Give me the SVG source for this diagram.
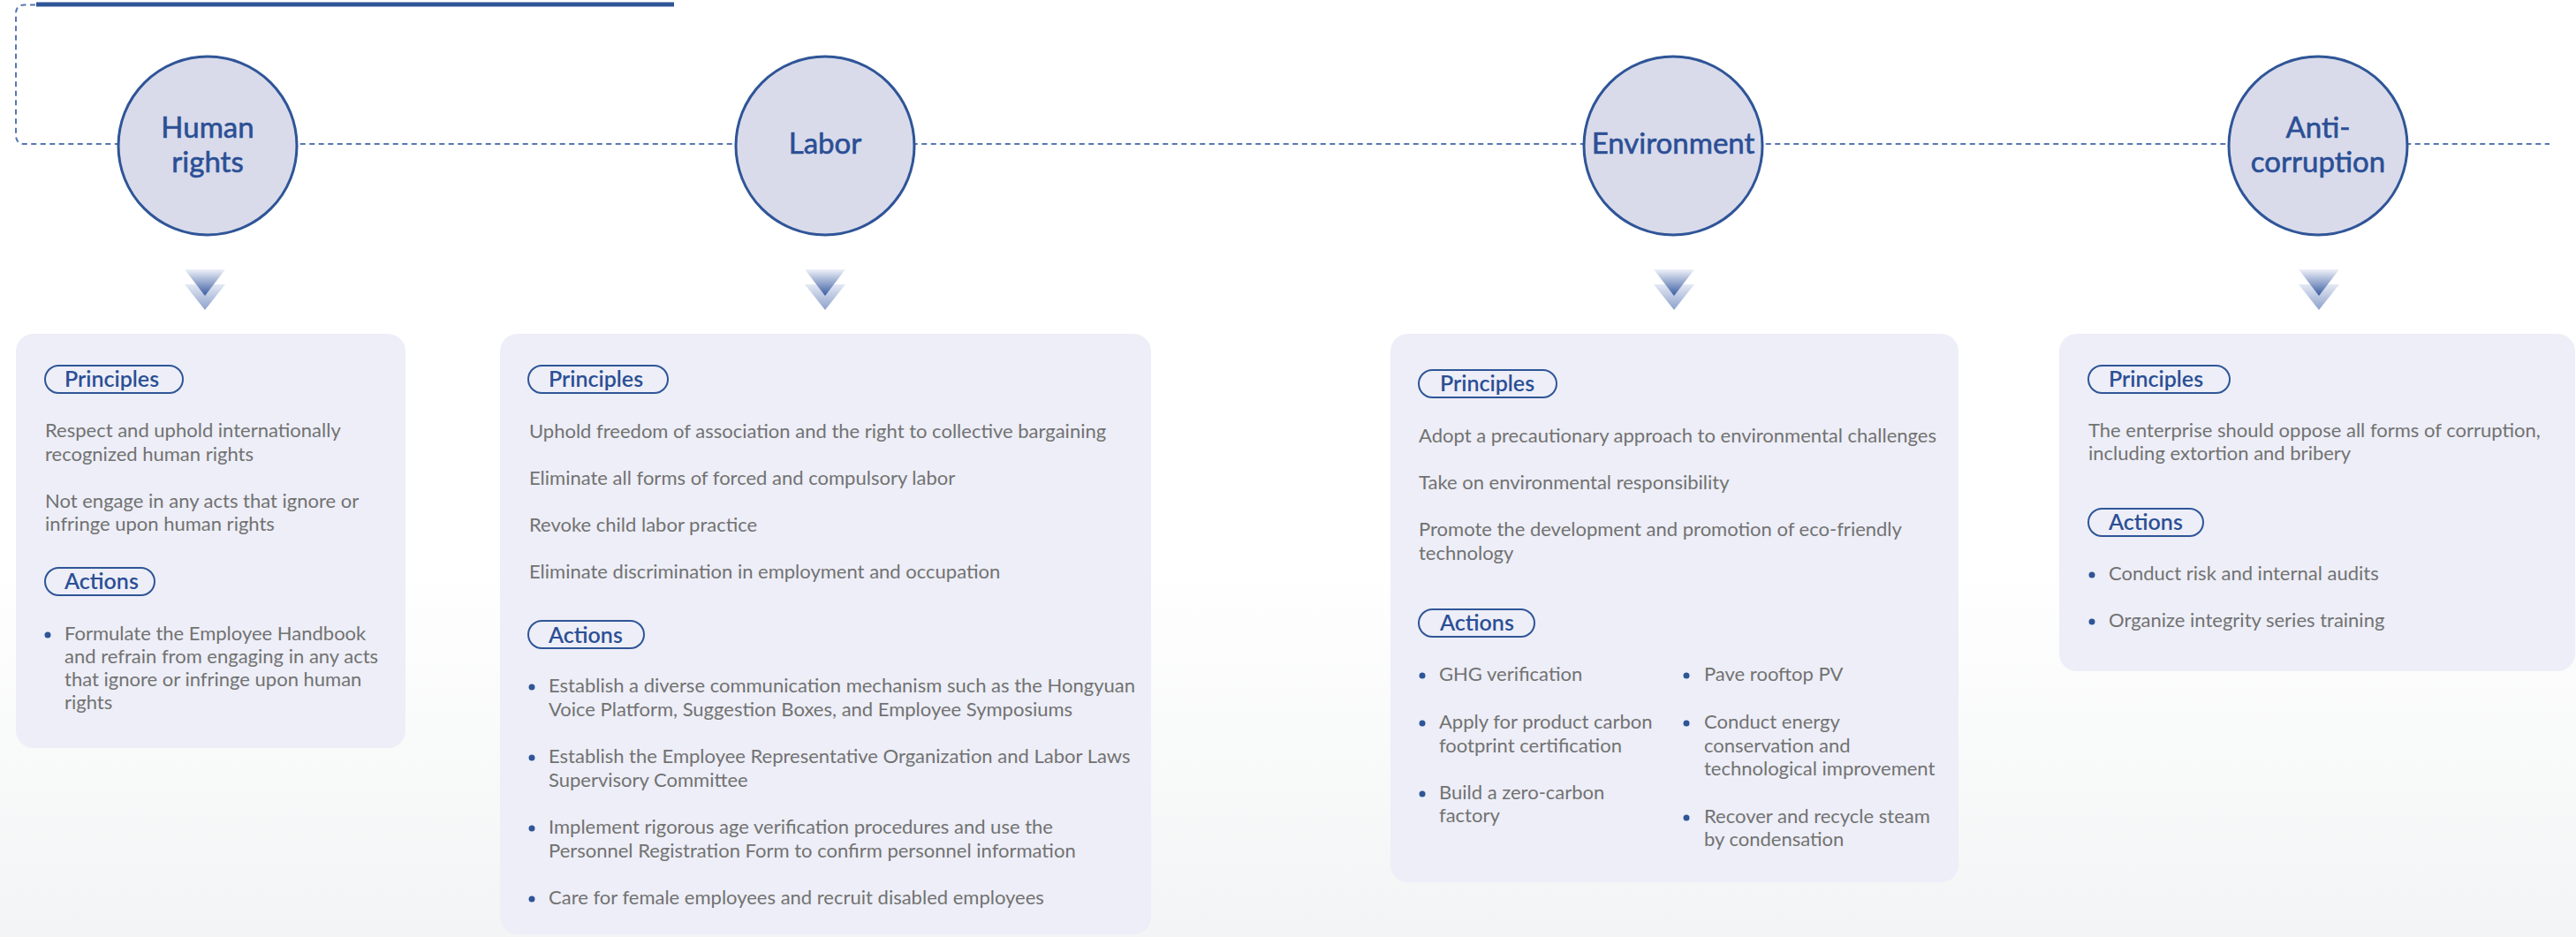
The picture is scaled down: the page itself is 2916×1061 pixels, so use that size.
<svg xmlns="http://www.w3.org/2000/svg" width="2916" height="1061" viewBox="0 0 2916 1061">
<style>
.bg{fill:url(#bgGrad)}
.card{fill:#edeef7}
.node{fill:#d9dbeb;stroke:#2f5597;stroke-width:3}
.ntxt{font-family:Lato,"Liberation Sans",sans-serif;font-size:33px;fill:#2b4f95;stroke:#2b4f95;stroke-width:0.6;text-anchor:middle}
.pill{fill:none;stroke:#2f5597;stroke-width:2}
.ptxt{font-family:Lato,"Liberation Sans",sans-serif;font-size:25px;font-weight:600;fill:#2b4f95}
.t{font-family:Lato,"Liberation Sans",sans-serif;font-size:22px;fill:#727272}
.dot{fill:#2f5597}
.conn{fill:none;stroke:#5677b3;stroke-width:2;stroke-dasharray:6 4.5}
.bar{fill:#2f5597}
</style>
<defs>
<linearGradient id="bgGrad" x1="0" y1="0" x2="0" y2="1">
<stop offset="0.6" stop-color="#ffffff"/>
<stop offset="1" stop-color="#f3f4f5"/>
</linearGradient>
<linearGradient id="chevF" x1="0" y1="0" x2="0" y2="1">
<stop offset="0" stop-color="#eef1f8"/>
<stop offset="1" stop-color="#3a5da3"/>
</linearGradient>
<linearGradient id="chevB" x1="0" y1="0" x2="0" y2="1">
<stop offset="0" stop-color="#e4e9f4"/>
<stop offset="1" stop-color="#8da1cb"/>
</linearGradient>
<g id="chev">
<polygon points="-23,322 23,322 0,351" fill="url(#chevB)"/>
<polygon points="-23,305 23,305 0,335" fill="url(#chevF)"/>
</g>
</defs>
<rect class="bg" x="0" y="0" width="2916" height="1061"/>
<rect class="bar" x="41" y="2.5" width="722" height="5"/>
<g id="connectors">
<path class="conn" d="M40 5.5 H28 Q18 5.5 18 15.5 V153 Q18 163 28 163 H2886"/>
<use href="#chev" x="232" y="0"/>
<use href="#chev" x="934" y="0"/>
<use href="#chev" x="1895" y="0"/>
<use href="#chev" x="2625" y="0"/>
</g>
<g id="node-human-rights">
<circle class="node" cx="235" cy="165" r="101"/>
<text class="ntxt" x="235" y="156">Human</text>
<text class="ntxt" x="235" y="195">rights</text>
</g>
<g id="node-labor">
<circle class="node" cx="934" cy="165" r="101"/>
<text class="ntxt" x="934" y="174">Labor</text>
</g>
<g id="node-environment">
<circle class="node" cx="1894" cy="165" r="101"/>
<text class="ntxt" x="1894" y="174">Environment</text>
</g>
<g id="node-anti-corruption">
<circle class="node" cx="2624" cy="165" r="101"/>
<text class="ntxt" x="2624" y="156">Anti-</text>
<text class="ntxt" x="2624" y="195">corruption</text>
</g>
<g id="card-human-rights">
<rect class="card" x="18" y="378" width="441" height="469" rx="20"/>
<rect class="pill" x="51" y="414" width="156" height="31" rx="15.5"/>
<text class="ptxt" x="73" y="438">Principles</text>
<text class="t" x="51" y="495">Respect and uphold internationally</text>
<text class="t" x="51" y="522">recognized human rights</text>
<text class="t" x="51" y="575">Not engage in any acts that ignore or</text>
<text class="t" x="51" y="601">infringe upon human rights</text>
<rect class="pill" x="51" y="643" width="124" height="31" rx="15.5"/>
<text class="ptxt" x="73" y="667">Actions</text>
<circle class="dot" cx="54" cy="719" r="3.5"/>
<text class="t" x="73" y="725">Formulate the Employee Handbook</text>
<text class="t" x="73" y="751">and refrain from engaging in any acts</text>
<text class="t" x="73" y="777">that ignore or infringe upon human</text>
<text class="t" x="73" y="803">rights</text>
</g>
<g id="card-labor">
<rect class="card" x="566" y="378" width="737" height="680" rx="20"/>
<rect class="pill" x="598" y="414" width="158" height="31" rx="15.5"/>
<text class="ptxt" x="621" y="438">Principles</text>
<text class="t" x="599" y="496">Uphold freedom of association and the right to collective bargaining</text>
<text class="t" x="599" y="549">Eliminate all forms of forced and compulsory labor</text>
<text class="t" x="599" y="602">Revoke child labor practice</text>
<text class="t" x="599" y="655">Eliminate discrimination in employment and occupation</text>
<rect class="pill" x="598" y="703" width="131" height="31" rx="15.5"/>
<text class="ptxt" x="621" y="728">Actions</text>
<circle class="dot" cx="602" cy="778" r="3.5"/>
<text class="t" x="621" y="784">Establish a diverse communication mechanism such as the Hongyuan</text>
<text class="t" x="621" y="811">Voice Platform, Suggestion Boxes, and Employee Symposiums</text>
<circle class="dot" cx="602" cy="858" r="3.5"/>
<text class="t" x="621" y="864">Establish the Employee Representative Organization and Labor Laws</text>
<text class="t" x="621" y="891">Supervisory Committee</text>
<circle class="dot" cx="602" cy="938" r="3.5"/>
<text class="t" x="621" y="944">Implement rigorous age verification procedures and use the</text>
<text class="t" x="621" y="971">Personnel Registration Form to confirm personnel information</text>
<circle class="dot" cx="602" cy="1018" r="3.5"/>
<text class="t" x="621" y="1024">Care for female employees and recruit disabled employees</text>
</g>
<g id="card-environment">
<rect class="card" x="1574" y="378" width="643" height="621" rx="20"/>
<rect class="pill" x="1606" y="419" width="156" height="31" rx="15.5"/>
<text class="ptxt" x="1630" y="443">Principles</text>
<text class="t" x="1606" y="501">Adopt a precautionary approach to environmental challenges</text>
<text class="t" x="1606" y="554">Take on environmental responsibility</text>
<text class="t" x="1606" y="607">Promote the development and promotion of eco-friendly</text>
<text class="t" x="1606" y="634">technology</text>
<rect class="pill" x="1606" y="690" width="131" height="31" rx="15.5"/>
<text class="ptxt" x="1630" y="714">Actions</text>
<circle class="dot" cx="1610" cy="765" r="3.5"/>
<text class="t" x="1629" y="771">GHG verification</text>
<circle class="dot" cx="1610" cy="819" r="3.5"/>
<text class="t" x="1629" y="825">Apply for product carbon</text>
<text class="t" x="1629" y="852">footprint certification</text>
<circle class="dot" cx="1610" cy="899" r="3.5"/>
<text class="t" x="1629" y="905">Build a zero-carbon</text>
<text class="t" x="1629" y="931">factory</text>
<circle class="dot" cx="1909" cy="765" r="3.5"/>
<text class="t" x="1929" y="771">Pave rooftop PV</text>
<circle class="dot" cx="1909" cy="819" r="3.5"/>
<text class="t" x="1929" y="825">Conduct energy</text>
<text class="t" x="1929" y="852">conservation and</text>
<text class="t" x="1929" y="878">technological improvement</text>
<circle class="dot" cx="1909" cy="926" r="3.5"/>
<text class="t" x="1929" y="932">Recover and recycle steam</text>
<text class="t" x="1929" y="958">by condensation</text>
</g>
<g id="card-anti-corruption">
<rect class="card" x="2331" y="378" width="584" height="382" rx="20"/>
<rect class="pill" x="2364" y="414" width="160" height="31" rx="15.5"/>
<text class="ptxt" x="2387" y="438">Principles</text>
<text class="t" x="2364" y="495">The enterprise should oppose all forms of corruption,</text>
<text class="t" x="2364" y="521">including extortion and bribery</text>
<rect class="pill" x="2364" y="576" width="130" height="31" rx="15.5"/>
<text class="ptxt" x="2387" y="600">Actions</text>
<circle class="dot" cx="2368" cy="651" r="3.5"/>
<text class="t" x="2387" y="657">Conduct risk and internal audits</text>
<circle class="dot" cx="2368" cy="704" r="3.5"/>
<text class="t" x="2387" y="710">Organize integrity series training</text>
</g>
</svg>
